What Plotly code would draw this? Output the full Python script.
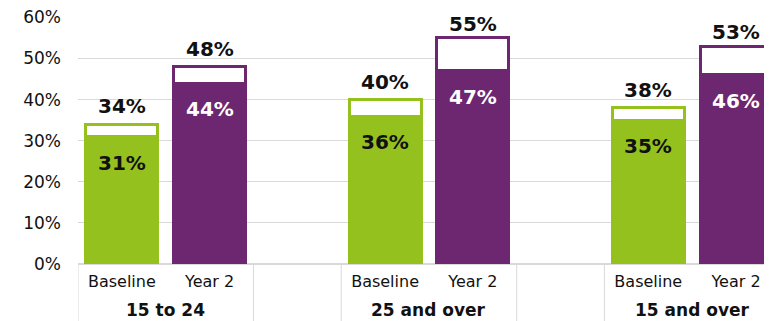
import plotly.graph_objects as go

# ---- data ----
groups = ["15 to 24", "25 and over", "15 and over"]
periods = ["Baseline", "Year 2"]
lower_baseline = [31, 36, 35]
total_baseline = [34, 40, 38]
lower_year2 = [44, 47, 46]
total_year2 = [48, 55, 53]
y_ticks = [0, 10, 20, 30, 40, 50, 60]

GREEN = "#95C11F"
PURPLE = "#6C2770"
GRID = "#d9d9d9"
INK = "#111111"
FONT = "DejaVu Sans"

# slot layout: two bars per group, one empty slot between groups
xs, lower, upper, totals, colors, lab_colors, ticktext = [], [], [], [], [], [], []
group_centers, dividers = [], []
slot = 0
for gi, g in enumerate(groups):
    lows = [lower_baseline[gi], lower_year2[gi]]
    tots = [total_baseline[gi], total_year2[gi]]
    dividers.append(slot - 0.5)
    start = slot
    for pi, p in enumerate(periods):
        xs.append(slot)
        lower.append(lows[pi])
        upper.append(tots[pi] - lows[pi])
        totals.append(tots[pi])
        colors.append(GREEN if pi == 0 else PURPLE)
        lab_colors.append(INK if pi == 0 else "#ffffff")
        ticktext.append(p)
        slot += 1
    group_centers.append((start + slot - 1) / 2)
    dividers.append(slot - 0.5)
    slot += 1  # spacer

fig = go.Figure()
fig.add_trace(go.Bar(
    x=xs, y=lower,
    marker=dict(color=colors, line=dict(color=colors, width=3)),
    hoverinfo="skip", showlegend=False,
))
fig.add_trace(go.Bar(
    x=xs, y=upper,
    marker=dict(color="#ffffff", line=dict(color=colors, width=3)),
    hoverinfo="skip", showlegend=False,
))

for i in range(len(xs)):
    # labels near the top of the chart get nudged down to stay inside it
    shift = 4 if totals[i] < 50 else 0
    fig.add_annotation(x=xs[i], y=totals[i], text="<b>%d%%</b>" % totals[i],
                       showarrow=False, yanchor="bottom", yshift=shift,
                       font=dict(family=FONT, size=20, color=INK))
    fig.add_annotation(x=xs[i], y=lower[i], text="<b>%d%%</b>" % lower[i],
                       showarrow=False, yanchor="top", yshift=-12,
                       font=dict(family=FONT, size=20, color=lab_colors[i]))

for gi, g in enumerate(groups):
    fig.add_annotation(x=group_centers[gi], y=0, yref="paper", text="<b>%s</b>" % g,
                       showarrow=False, yanchor="top", yshift=-34,
                       font=dict(family=FONT, size=17, color=INK))

for d in sorted(set(dividers)):
    fig.add_shape(type="line", xref="x", yref="paper", x0=d, x1=d, y0=0, y1=-0.4,
                  line=dict(color=GRID, width=1))

# page body has an 8px margin, so the figure is offset by 8px
fig.update_layout(
    width=764, height=313,
    margin=dict(l=70, r=0, t=9, b=57),
    barmode="stack", bargap=0.18,
    plot_bgcolor="white", paper_bgcolor="white",
    font=dict(family=FONT, color=INK),
)
fig.update_xaxes(
    range=[-0.5, 7.41], tickvals=xs, ticktext=ticktext,
    tickfont=dict(family=FONT, size=16, color=INK),
    showgrid=False, showline=False, zeroline=False,
    ticklabelstandoff=6, automargin=False,
)
fig.update_yaxes(
    range=[0, 60.1], tickvals=y_ticks, ticktext=["%d%%" % v for v in y_ticks],
    gridcolor=GRID, zeroline=True, zerolinecolor=GRID,
    showline=False, ticklabelstandoff=16, automargin=False,
    ticklabeloverflow="allow",
    tickfont=dict(family=FONT, size=17, color=INK),
)

fig.write_html("out.html")
